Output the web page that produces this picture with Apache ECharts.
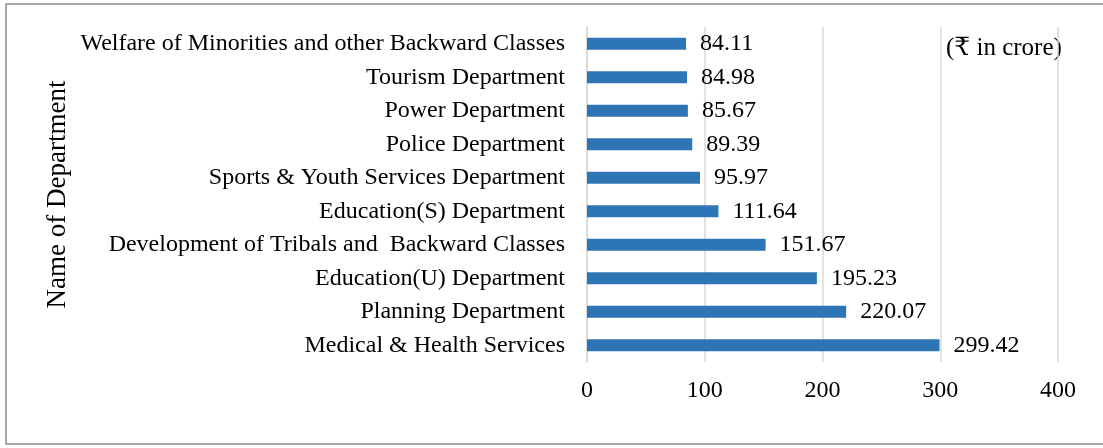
<!DOCTYPE html>
<html>
<head>
<meta charset="utf-8">
<script src="https://cdn.jsdelivr.net/npm/echarts@6/dist/echarts.min.js"></script>
<style>
  html, body { margin: 0; padding: 0; background: #fff; }
</style>
</head>
<body>
<div id="myChart1" style="width: 1103px; height: 448px;"></div>
<script>
// departments, top to bottom as shown
var departments = [
  'Welfare of Minorities and other Backward Classes',
  'Tourism Department',
  'Power Department',
  'Police Department',
  'Sports & Youth Services Department',
  'Education(S) Department',
  'Development of Tribals and  Backward Classes',
  'Education(U) Department',
  'Planning Department',
  'Medical & Health Services'
]
var amounts = [84.11, 84.98, 85.67, 89.39, 95.97, 111.64, 151.67, 195.23, 220.07, 299.42]
var xTicks = [0, 100, 200, 300, 400]

var serif = '"Liberation Serif", "Times New Roman", "DejaVu Serif", serif'
var myChart = echarts.init(document.getElementById('myChart1'))
var option = {
  animation: false,
  backgroundColor: '#fff',
  textStyle: { fontFamily: serif },
  graphic: [
    {
      type: 'rect',
      shape: { x: 6, y: 4, width: 1120, height: 440 },
      style: { fill: 'none', stroke: '#8c8c8c', lineWidth: 1.5 }
    },
    {
      type: 'text',
      left: 946,
      top: 36,
      style: {
        text: '(\u20B9 in crore)',
        font: '25px ' + serif,
        fill: '#000'
      }
    }
  ],
  grid: {
    left: 587,
    right: 45,
    top: 27,
    bottom: 86,
    containLabel: false
  },
  xAxis: {
    type: 'value',
    min: xTicks[0],
    max: xTicks[xTicks.length - 1],
    interval: 100,
    axisLine: { show: false },
    axisTick: { show: false },
    axisLabel: {
      margin: 17,
      color: '#000',
      fontSize: 24,
      fontFamily: serif
    },
    splitLine: { lineStyle: { color: '#d9d9d9', width: 1.5 } }
  },
  yAxis: {
    type: 'category',
    inverse: true,
    data: departments,
    name: 'Name of Department',
    nameLocation: 'middle',
    nameGap: 516,
    nameRotate: 90,
    nameTextStyle: { color: '#000', fontSize: 27, fontFamily: serif },
    axisLine: { show: true, lineStyle: { color: '#d9d9d9', width: 1.5 } },
    axisTick: { show: false },
    axisLabel: {
      margin: 22,
      color: '#000',
      fontSize: 24,
      fontFamily: serif
    }
  },
  series: [{
    type: 'bar',
    data: amounts,
    barWidth: 12,
    itemStyle: { color: '#2E75B6' },
    label: {
      show: true,
      position: 'right',
      distance: 14,
      color: '#000',
      fontSize: 24,
      fontFamily: serif,
      formatter: function (p) { return p.value.toFixed(2) }
    }
  }]
}
myChart.setOption(option, true)
</script>
</body>
</html>
